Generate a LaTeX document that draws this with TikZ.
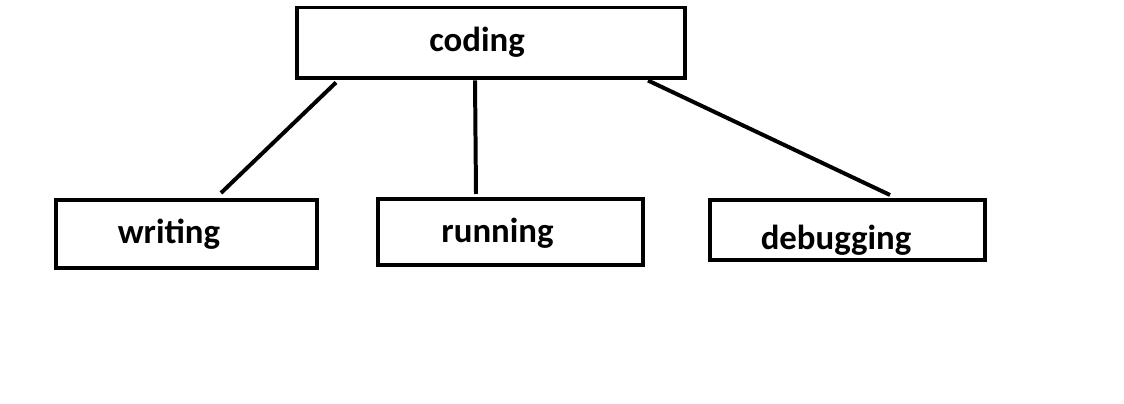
\documentclass[tikz,border=0pt]{standalone}
\usepackage{fontspec}
\setmainfont{Carlito}
\usetikzlibrary{calc}

\tikzset{
  box/.style={draw,line width=2.27pt,rectangle,inner sep=0pt},
  lbl/.style={font=\fontsize{19.8}{24}\selectfont\bfseries,anchor=base,inner sep=0pt},
  link/.style={line width=2.27pt}
}

\begin{document}
\begin{tikzpicture}[x=0.02cm,y=-0.02cm]
\useasboundingbox[fill=white] (0,0) rectangle (1124,404);
% boxes (sizes in cm = px*0.02)
\node[box,minimum width=7.77cm,minimum height=1.42cm] (coding) at (490.75,43) {};
\node[box,minimum width=5.24cm,minimum height=1.36cm] (writing) at (186.5,234) {};
\node[box,minimum width=5.30cm,minimum height=1.32cm] (running) at (510.5,232) {};
\node[box,minimum width=5.52cm,minimum height=1.20cm] (debugging) at (847.5,230) {};
% labels
\node[lbl] (codingtxt) at (477,51.5) {coding};
\node[lbl] (writingtxt) at (169,244) {writing};
\node[lbl] (runningtxt) at (497.5,243) {running};
\node[lbl] (debuggingtxt) at (836,250) {debugging};
% loose ends of the links
\coordinate (wend) at (221,193);
\coordinate (rend) at (476,194);
\coordinate (dend) at (890,195);
\draw[link] ($(coding.south)+(-154.75,2)$) -- (wend);
\draw[link] ($(coding.south)+(-15.75,0)$) -- (rend);
\draw[link] ($(coding.south)+(157.25,0)$) -- (dend);
\end{tikzpicture}
\end{document}
